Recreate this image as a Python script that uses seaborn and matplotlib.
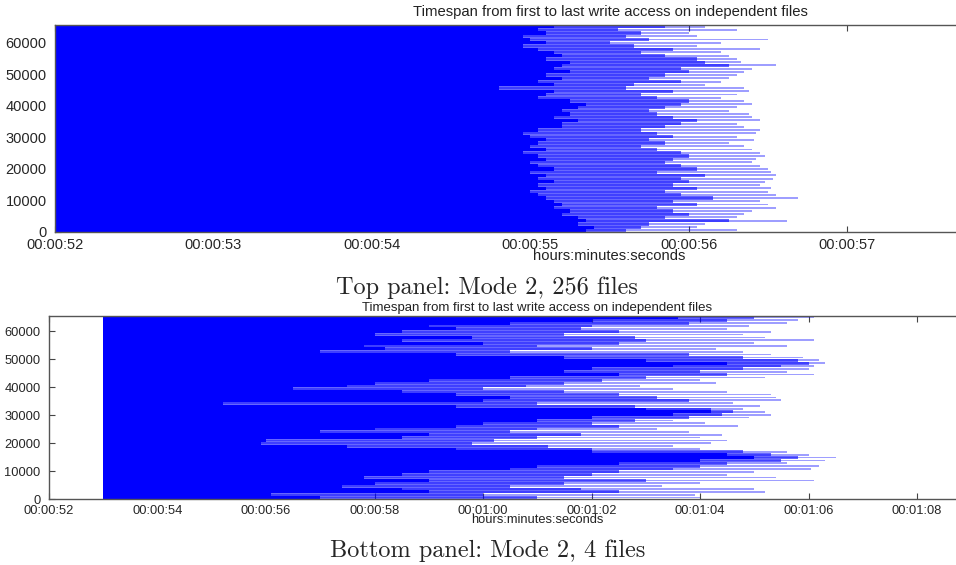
import numpy as np
import pandas as pd
import matplotlib
matplotlib.use("Agg")
import matplotlib.pyplot as plt
import seaborn as sns

# each row stands for 1024 consecutive ranks, listed from the top of the panel (rank 65535) downwards
n_ranks = 65536
title = "Timespan from first to last write access on independent files"
xlabel = "hours:minutes:seconds"

# Top panel: Mode 2, 256 files (seconds after 00:00:00)
top_start = 52.0
top_dark_end = [55.15, 55.05, 55.10, 54.95, 55.00, 55.10, 54.95, 55.05, 55.15, 55.20,
                55.10, 55.25, 55.20, 55.15, 55.25, 55.10, 55.20, 55.05, 55.15, 54.80,
                55.15, 55.10, 55.05, 55.25, 55.35, 55.30, 55.20, 55.25, 55.15, 55.30,
                55.20, 55.20, 55.05, 54.95, 55.00, 55.10, 55.05, 55.00, 55.10, 54.95,
                55.05, 55.10, 55.00, 55.05, 55.15, 55.00, 55.10, 55.05, 55.15, 55.05,
                55.10, 55.00, 55.05, 55.10, 55.15, 55.20, 55.15, 55.25, 55.20, 55.30,
                55.35, 55.30, 55.40, 55.35]
top_mid_end = [55.85, 55.55, 55.70, 55.60, 55.75, 55.50, 55.65, 55.90, 55.70, 55.85,
               56.05, 56.10, 56.25, 55.95, 56.00, 55.85, 55.75, 55.95, 55.65, 55.60,
               55.90, 55.70, 55.80, 56.00, 55.95, 55.85, 55.75, 55.80, 55.90, 56.05,
               55.95, 55.85, 55.70, 55.80, 55.90, 55.75, 55.85, 55.70, 55.80, 55.95,
               56.00, 55.90, 55.85, 55.95, 56.05, 55.80, 56.10, 55.95, 56.00, 55.90,
               56.05, 55.85, 55.95, 56.15, 55.90, 56.05, 55.80, 55.90, 56.00, 55.85,
               56.25, 55.75, 55.70, 55.60]
top_light_end = [56.10, 56.30, 56.00, 56.05, 56.50, 56.20, 56.05, 56.45, 56.20, 56.25,
                 56.30, 56.33, 56.55, 56.40, 56.35, 56.30, 56.25, 56.20, 56.10, 56.35,
                 56.38, 56.30, 56.20, 56.35, 56.40, 56.30, 56.25, 56.38, 56.40, 56.45,
                 56.30, 56.35, 56.45, 56.42, 56.30, 56.41, 56.25, 56.35, 56.40, 56.45,
                 56.48, 56.42, 56.40, 56.45, 56.50, 56.52, 56.55, 56.53, 56.48, 56.45,
                 56.52, 56.50, 56.55, 56.69, 56.45, 56.50, 56.55, 56.40, 56.35, 56.30,
                 56.62, 56.10, 56.05, 56.30]
top_ticks = [52, 53, 54, 55, 56, 57]
top_tick_labels = ["00:00:52", "00:00:53", "00:00:54", "00:00:55", "00:00:56", "00:00:57"]

# Bottom panel: Mode 2, 4 files
bottom_start = 53.0
bottom_dark_end = [63.6, 62.0, 60.5, 59.0, 59.5, 58.5, 58.0, 59.8, 58.5, 60.0,
                   57.8, 58.2, 57.0, 59.5, 61.5, 63.0, 64.5, 63.5, 62.0, 61.5,
                   62.5, 60.5, 59.0, 58.0, 57.5, 56.5, 58.5, 59.5, 60.5, 60.0,
                   55.2, 59.5, 63.0, 64.2, 63.5, 62.0, 61.0, 60.0, 59.5, 58.0,
                   57.0, 59.0, 58.5, 56.0, 55.9, 57.5, 59.5, 62.0, 64.5, 65.0,
                   64.0, 62.5, 61.0, 60.5, 59.0, 58.5, 57.8, 59.0, 58.0, 57.4,
                   58.5, 59.0, 56.1, 57.0]
bottom_mid_end = [65.0, 64.5, 63.8, 62.0, 61.8, 62.5, 61.5, 62.8, 63.0, 62.5,
                  61.0, 62.0, 60.5, 63.8, 64.8, 65.8, 66.0, 65.5, 64.8, 64.0,
                  64.5, 63.0, 62.2, 61.5, 60.8, 60.0, 61.5, 62.5, 63.2, 63.8,
                  61.0, 62.8, 64.2, 64.6, 64.4, 63.8, 62.8, 62.0, 62.5, 61.0,
                  60.5, 61.8, 61.0, 60.2, 59.8, 61.2, 62.0, 64.8, 65.3, 65.8,
                  65.5, 64.5, 64.0, 63.5, 62.5, 62.0, 61.5, 63.0, 61.5, 60.5,
                  61.8, 62.5, 60.0, 61.0]
bottom_light_end = [66.1, 65.8, 65.6, 64.9, 64.5, 65.3, 64.8, 65.2, 66.1, 65.0,
                    65.6, 64.3, 64.8, 65.3, 65.9, 66.2, 66.3, 66.1, 66.0, 65.6,
                    66.1, 65.2, 64.0, 64.3, 62.9, 63.5, 64.5, 65.3, 65.4, 65.5,
                    64.6, 65.1, 64.8, 65.2, 65.3, 64.9, 63.5, 64.1, 64.7, 63.2,
                    63.8, 64.4, 64.0, 64.5, 64.2, 63.5, 64.0, 65.6, 66.0, 66.5,
                    66.3, 65.6, 66.2, 66.05, 65.0, 64.5, 65.4, 66.1, 64.0, 63.3,
                    65.0, 65.2, 63.9, 64.0]
bottom_ticks = [52, 54, 56, 58, 60, 62, 64, 66, 68]
bottom_tick_labels = ["00:00:52", "00:00:54", "00:00:56", "00:00:58", "00:01:00",
                      "00:01:02", "00:01:04", "00:01:06", "00:01:08"]

y_ticks = [0, 10000, 20000, 30000, 40000, 50000, 60000]

sns.set_style("ticks")
plt.rcParams["font.family"] = ["Liberation Sans", "DejaVu Sans"]

fig = plt.figure(figsize=(9.56, 5.65), dpi=100)
ax_top = fig.add_axes([0.0575, 0.5894, 0.9425, 0.3664])
ax_bot = fig.add_axes([0.0513, 0.1168, 0.9487, 0.3239])


def draw_panel(ax, start, dark, mid, light, ticks, labels, xmax, fs):
    rows = len(dark)
    step = n_ranks / rows
    ranks = n_ranks - step * (np.arange(rows) + 0.5)
    # faint strands first, then the denser part, then the solid block
    layers = [(light, 0.38, 0.6), (mid, 0.6, 1.0), (dark, 1.0, 1.0)]
    for ends, alpha, frac in layers:
        df = pd.DataFrame({"rank": ranks, "span": np.array(ends) - start})
        sns.barplot(data=df, x="span", y="rank", orient="h", native_scale=True,
                    width=frac, color="#0000ff", saturation=1, alpha=alpha,
                    errorbar=None, linewidth=0, left=start, ax=ax)
    ax.set_xlim(52, xmax)
    ax.set_ylim(0, n_ranks)
    ax.set_xticks(ticks)
    ax.set_xticklabels(labels)
    ax.set_yticks(y_ticks)
    ax.set_yticklabels([str(v) for v in y_ticks])
    ax.set_xlabel("")
    ax.set_ylabel("")
    ax.tick_params(axis="both", direction="in", length=4, width=0.8,
                   color="#444444", labelsize=fs, top=True, right=False)
    ax.tick_params(axis="x", pad=4)
    ax.tick_params(axis="y", pad=6)
    for side in ["left", "top", "bottom"]:
        ax.spines[side].set_color("#555555")
        ax.spines[side].set_linewidth(1.0)
    ax.spines["right"].set_visible(False)
    ax.spines["top"].set_visible(True)


draw_panel(ax_top, top_start, top_dark_end, top_mid_end, top_light_end,
           top_ticks, top_tick_labels, 52 + 901 / 158.5, 10.5)
draw_panel(ax_bot, bottom_start, bottom_dark_end, bottom_mid_end, bottom_light_end,
           bottom_ticks, bottom_tick_labels, 52 + 907 / 54.25, 9.3)

fig.text(610 / 956, 1 - 12 / 565, title, ha="center", va="center", fontsize=10.7, color="#222222")
fig.text(609 / 956, 1 - 256 / 565, xlabel, ha="center", va="center", fontsize=10.6, color="#222222")
fig.text(537 / 956, 1 - 308 / 565, title, ha="center", va="center", fontsize=9.5, color="#222222")
fig.text(537 / 956, 1 - 520 / 565, xlabel, ha="center", va="center", fontsize=9.3, color="#222222")

serif = ["cmr10", "DejaVu Serif"]
fig.text(487 / 956, 1 - 288 / 565, "Top panel: Mode 2, 256 files", ha="center", va="center",
         fontsize=17.5, family=serif)
fig.text(488 / 956, 1 - 551 / 565, "Bottom panel: Mode 2, 4 files", ha="center", va="center",
         fontsize=17.5, family=serif)

fig.savefig("out.png", dpi=100)
